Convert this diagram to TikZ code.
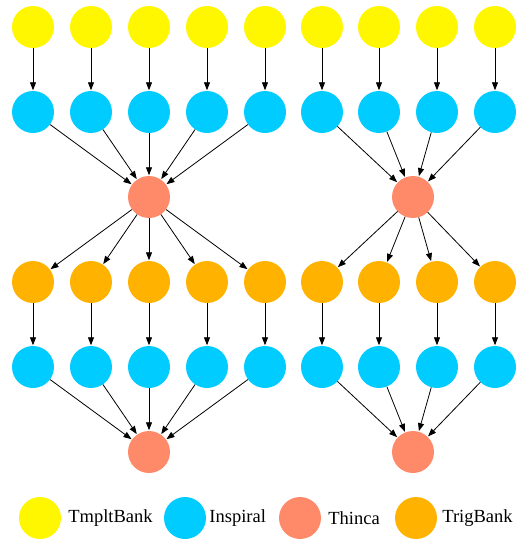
\documentclass[tikz,border=0pt]{standalone}
\usepackage{fontspec}
\setmainfont{Liberation Serif}
\usetikzlibrary{arrows.meta,positioning}

\definecolor{tmpltcol}{HTML}{FFF700}
\definecolor{inspcol}{HTML}{00CCFF}
\definecolor{thincacol}{HTML}{FF8A6A}
\definecolor{trigcol}{HTML}{FFB300}

\tikzset{
    job/.style={circle, minimum size=42pt, inner sep=0pt, draw=none},
    tmpltbank/.style={job, fill=tmpltcol},
    inspiral/.style={job, fill=inspcol},
    thinca/.style={job, fill=thincacol},
    trigbank/.style={job, fill=trigcol},
    edge/.style={-{Triangle[length=8pt,width=6pt]}, line width=0.8pt, shorten >=0.5pt},
    legtext/.style={inner sep=0pt, anchor=west, font=\fontsize{18.5}{20}\selectfont},
}

\begin{document}
\begin{tikzpicture}[x=1pt, y=-1pt]
\useasboundingbox (0,0) rectangle (525,539);

% the jobs, one column each
\foreach \x [count=\k] in {33,91,149,207,265,322,379,437,495} {
    \node[tmpltbank] (tb\k) at (\x,27) {};
    \node[inspiral] (insA\k) at (\x,112) {};
    \node[trigbank] (trig\k) at (\x,282) {};
    \node[inspiral] (insB\k) at (\x,367) {};
    \draw[edge] (tb\k) -- (insA\k);
    \draw[edge] (trig\k) -- (insB\k);
}

\node[thinca] (thincaA) at (149,197) {};
\node[thinca] (thincaB) at (413,197) {};
\node[thinca] (thincaC) at (149,452) {};
\node[thinca] (thincaD) at (413,452) {};

\foreach \k in {1,...,5} {
    \draw[edge] (insA\k) -- (thincaA);
    \draw[edge] (thincaA) -- (trig\k);
    \draw[edge] (insB\k) -- (thincaC);
}
\foreach \k in {6,...,9} {
    \draw[edge] (insA\k) -- (thincaB);
    \draw[edge] (thincaB) -- (trig\k);
    \draw[edge] (insB\k) -- (thincaD);
}

% legend
\node[tmpltbank] (legTB) at (40,518) {};
\node[legtext, right=7pt of legTB] (legTBtxt) {TmpltBank};
\node[inspiral] (legIns) at (185,518) {};
\node[legtext, right=3pt of legIns] (legInstxt) {Inspiral};
\node[thinca] (legTh) at (300,518) {};
\node[legtext, right=7pt of legTh] (legThtxt) {Thinca};
\node[trigbank] (legTrig) at (416,518) {};
\node[legtext, right=5pt of legTrig] (legTrigtxt) {TrigBank};
\end{tikzpicture}
\end{document}
